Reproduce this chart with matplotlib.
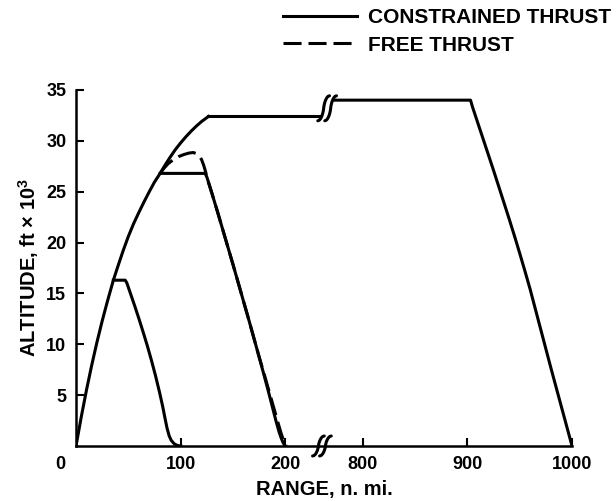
import numpy as np
import matplotlib
matplotlib.use("Agg")
import matplotlib.pyplot as plt
from matplotlib.transforms import ScaledTranslation

plt.rcParams['font.family'] = ['Liberation Sans', 'DejaVu Sans']
plt.rcParams['font.weight'] = 'bold'
plt.rcParams['axes.labelweight'] = 'bold'
plt.rcParams['mathtext.fontset'] = 'custom'
plt.rcParams['mathtext.rm'] = 'Liberation Sans:bold'
plt.rcParams['mathtext.bf'] = 'Liberation Sans:bold'
plt.rcParams['lines.scale_dashes'] = False

# range axis is broken between these two values (n. mi.)
BREAK_LO = 235
BREAK_HI = 761

# climb envelope shared by all missions
climb_x = [0, 5, 10, 15, 20, 25, 30, 35.7, 40, 45, 50, 55, 60, 65, 70, 75, 80.4,
           85, 90, 95, 100, 105, 110, 115, 120, 126.6]
climb_y = [0, 2.85, 5.5, 7.94, 10.2, 12.29, 14.22, 16.3, 17.66, 19.19, 20.6, 21.85,
           22.95, 24.0, 25.0, 25.95, 26.8, 27.6, 28.4, 29.15, 29.8, 30.4, 30.95,
           31.45, 31.9, 32.4]

# short mission: cruise at 16.3 then descent
short_x = [35.7, 47, 48.5, 50, 53, 56, 60, 64, 68, 72, 76, 80, 83, 85, 87, 89, 91,
           94, 97, 100]
short_y = [16.3, 16.3, 16.05, 15.6, 14.7, 13.8, 12.55, 11.25, 9.9, 8.45, 6.9, 5.2,
           3.8, 2.75, 1.75, 1.0, 0.55, 0.2, 0.05, 0]

# medium mission, constrained thrust
med_x = [80.4, 123.4, 125, 127, 130, 135, 140, 145, 150, 155, 160, 165, 170, 175,
         180, 184, 188, 191, 194, 196, 198, 200]
med_y = [26.8, 26.8, 26.45, 25.8, 24.8, 23.1, 21.35, 19.6, 17.85, 16.05, 14.25,
         12.45, 10.6, 8.75, 6.85, 5.3, 3.7, 2.5, 1.4, 0.8, 0.3, 0]

# medium mission, free thrust
free_x = [80.4, 84, 88, 93, 98, 103, 108, 112, 115, 118, 120, 122, 124, 126, 130,
          135, 140, 145, 150, 155, 160, 165, 170, 175, 180, 185, 189, 193, 196, 199, 201]
free_y = [26.8, 27.3, 27.75, 28.15, 28.45, 28.65, 28.8, 28.85, 28.75, 28.5, 28.15,
          27.6, 26.9, 26.1, 24.8, 23.1, 21.35, 19.6, 17.85, 16.05, 14.25, 12.45,
          10.6, 8.75, 7.0, 5.2, 3.75, 2.3, 1.25, 0.35, 0]

# long mission: cruise before the break, then after it
cruise1_x = [126.6, 233]
cruise1_y = [32.4, 32.4]
long_x = [772, 903, 905, 910, 915, 920, 925, 930, 935, 940, 945, 950, 955, 960,
          965, 970, 975, 980, 985, 990, 995, 1000]
long_y = [34.0, 34.0, 33.3, 31.75, 30.2, 28.65, 27.1, 25.5, 23.9, 22.3, 20.65,
          18.95, 17.2, 15.4, 13.45, 11.5, 9.55, 7.6, 5.7, 3.8, 1.9, 0]

xticks = [100, 200, 800, 900, 1000]
yticks = [5, 10, 15, 20, 25, 30, 35]


def fwd(x):
    x = np.asarray(x, dtype=float)
    return np.where(x <= BREAK_LO, x, np.where(x >= BREAK_HI, x - (BREAK_HI - BREAK_LO), BREAK_LO))


def inv(x):
    x = np.asarray(x, dtype=float)
    return np.where(x <= BREAK_LO, x, x + (BREAK_HI - BREAK_LO))


def squiggle(ax, x, y, h, w=0.045, gap=0.07):
    # pair of integral-sign break marks, sized in inches around a data point
    s = np.linspace(-1, 1, 60)
    bx = w * np.sign(s) * (1 - np.sqrt(1 - s ** 2)) + 0.3 * w * s
    by = s * h / 2
    tr = ax.figure.dpi_scale_trans + ScaledTranslation(x, y, ax.transData)
    for d in (-gap / 2, gap / 2):
        ax.plot(bx + d, by, color='black', lw=2.2, transform=tr, clip_on=False,
                solid_capstyle='round')


fig = plt.figure(figsize=(6.16, 5.01), dpi=100)
ax = fig.add_axes([0.1234, 0.1098, 0.8052, 0.7106])
ax.set_xscale('function', functions=(fwd, inv))

lw = 2.2
kw = dict(color='black', lw=lw, solid_joinstyle='round')
ax.plot(climb_x, climb_y, label='CONSTRAINED THRUST', **kw)
ax.plot(short_x, short_y, **kw)
ax.plot(med_x, med_y, **kw)
ax.plot(free_x, free_y, color='black', lw=lw, dashes=[13, 5], label='FREE THRUST')
ax.plot(cruise1_x, cruise1_y, **kw)
ax.plot(long_x, long_y, **kw)

ax.set_xlim(0, 1000)
ax.set_ylim(0, 35)
ax.set_xticks(xticks)
ax.set_yticks(yticks)
ax.tick_params(direction='in', length=6, width=1.5, labelsize=13, pad=7)
for side in ['top', 'right']:
    ax.spines[side].set_visible(False)
for side in ['left', 'bottom']:
    ax.spines[side].set_linewidth(1.8)

ax.annotate('0', xy=(0, 0), xycoords='data', xytext=(-11.5, -7),
            textcoords='offset points', ha='center', va='top', fontsize=13)

squiggle(ax, BREAK_HI, 0, h=0.2)
squiggle(ax, 766, 33.2, h=0.25)

ax.set_xlabel('RANGE, n. mi.', fontsize=14.5, labelpad=5)
ax.set_ylabel('ALTITUDE, ft $\\times$ 10$^{3}$', fontsize=14.5, labelpad=4)

fig.legend(loc='upper left', bbox_to_anchor=(283 / 616, 1 - 8 / 501), frameon=False,
           fontsize=15, handlelength=3.55, handletextpad=0.53, labelspacing=0.42,
           borderpad=0, borderaxespad=0)

fig.savefig('out.png', dpi=100)
